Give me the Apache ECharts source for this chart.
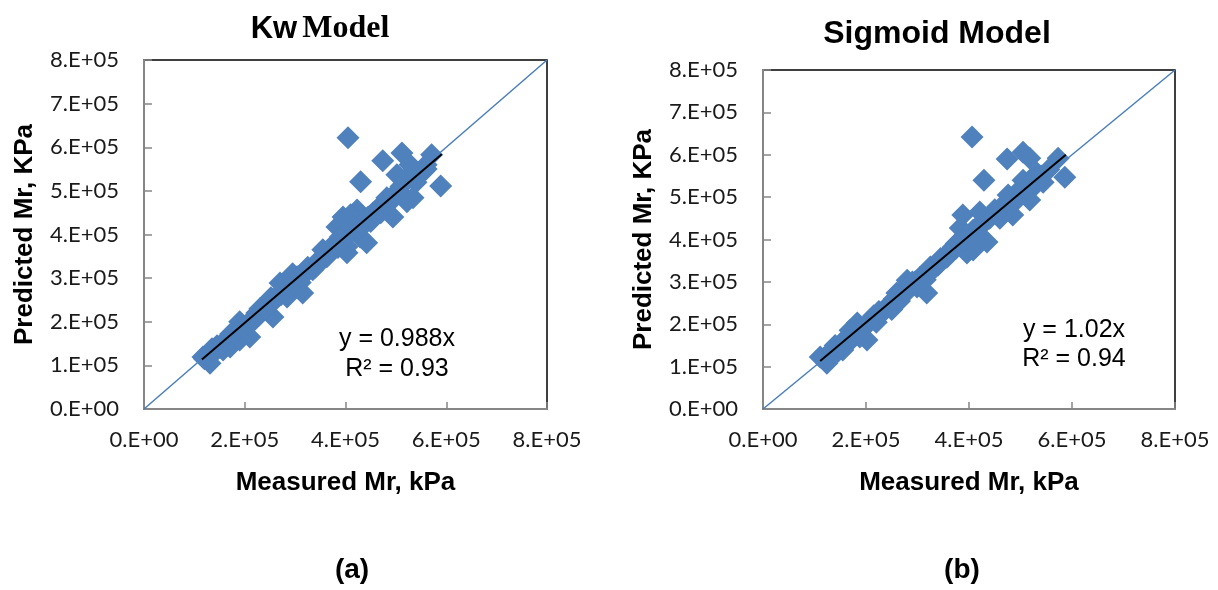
<!DOCTYPE html>
<html>
<head>
<meta charset="utf-8">
<script src="https://cdn.jsdelivr.net/npm/echarts@6/dist/echarts.min.js"></script>
<style>
html,body{margin:0;padding:0;background:#fff;}
#chart{width:1218px;height:590px;}
</style>
</head>
<body>
<div id="chart"></div>
<script>
// ---- data (values in kPa) ----
const kwMeasured = [117000,131000,125000,140000,157000,171000,162000,178000,190000,190000,185000,210000,200000,224000,235000,244000,256000,260000,270000,284000,280000,304000,315000,310000,335000,345000,363000,370000,403000,383000,395000,403000,405000,423000,429000,430000,442000,462000,478000,474000,482000,494000,502000,512000,522000,528000,534000,554000,571000,589000,390000,415000,450000,510000,295000,145000,220000,355000,410000,540000,560000,470000,
  120000,128000,135000,150000,155000,168000,172000,180000,195000,205000,215000,228000,230000,240000,250000,252000,265000,272000,278000,290000,295000,300000,310000,320000,325000,340000,350000,360000,370000,380000,385000,395000,400000,410000,420000,435000,445000,455000,465000,475000,485000,495000,505000,520000,530000,545000,560000];
const kwPredicted = [119000,105000,125000,130000,135000,142000,155000,162000,158000,200000,180000,165000,185000,220000,225000,243000,211000,250000,289000,257000,275000,303000,266000,290000,319000,335000,349000,360000,358000,417000,440000,372000,622000,456000,394000,521000,381000,456000,475000,569000,484000,440000,537000,587000,475000,560000,484000,544000,583000,511000,395000,410000,430000,510000,310000,145000,205000,365000,445000,520000,560000,450000,
  115000,122000,138000,142000,150000,160000,172000,175000,188000,195000,205000,215000,230000,230000,240000,255000,260000,262000,285000,280000,290000,288000,305000,310000,325000,325000,345000,355000,370000,380000,370000,390000,405000,420000,430000,420000,440000,450000,460000,465000,470000,490000,500000,525000,540000,535000,550000];

const sgMeasured = [111000,124000,130000,145000,155000,169000,165000,183000,188000,202000,195000,221000,230000,241000,250000,260000,265000,280000,299000,305000,318000,330000,340000,357000,369000,383000,388000,396000,406000,408000,408000,421000,429000,435000,460000,474000,476000,485000,505000,505000,518000,518000,532000,544000,573000,586000,375000,420000,450000,500000,530000,290000,220000,140000,350000,490000,
  118000,128000,135000,148000,155000,162000,175000,180000,192000,208000,215000,225000,235000,245000,255000,262000,270000,278000,285000,295000,310000,315000,325000,335000,345000,355000,365000,375000,380000,390000,400000,410000,420000,430000,440000,455000,465000,480000,495000,510000,525000,540000,555000];
const sgPredicted = [123000,108000,130000,135000,139000,186000,155000,203000,170000,163000,190000,217000,225000,241000,235000,274000,255000,304000,288000,311000,274000,330000,340000,358000,382000,427000,458000,368000,642000,422000,375000,465000,540000,394000,450000,590000,505000,458000,606000,540000,592000,493000,557000,535000,592000,547000,390000,430000,470000,520000,530000,300000,205000,150000,355000,490000,
  120000,125000,140000,145000,160000,165000,175000,182000,190000,210000,220000,230000,235000,245000,260000,262000,280000,275000,295000,300000,315000,305000,335000,335000,355000,360000,370000,380000,395000,400000,410000,415000,435000,440000,450000,460000,480000,485000,505000,520000,540000,550000,565000];

const kwSlope = 0.988, sgSlope = 1.02;
const kwTrendX = [115000, 591000];
const sgTrendX = [111000, 588000];
const diagonal = [[0,0],[800000,800000]];

const yTickLabels = ['0.E+00','1.E+05','2.E+05','3.E+05','4.E+05','5.E+05','6.E+05','7.E+05','8.E+05'];
const xTickLabels = ['0.E+00','2.E+05','4.E+05','6.E+05','8.E+05'];

const titles = ['Kw Model','Sigmoid Model'];
const kwEq = ['y = 0.988x','R² = 0.93'];
const sgEq = ['y = 1.02x','R² = 0.94'];
const panelLabels = ['(a)','(b)'];
const xName = 'Measured Mr, kPa';
const yName = 'Predicted Mr, KPa';

// ---- chart ----
const chart = echarts.init(document.getElementById('chart'), null, {renderer:'canvas'});
const zip = (a,b) => a.map((v,i)=>[v,b[i]]);
const blue = '#4F81BD';
const axisGray = '#868686';
const tickFont = 'Lato, "Open Sans", sans-serif';
const boldFont = '"Liberation Sans", Arial, sans-serif';

function xAxisCfg(gi){
  return {
    type:'value', gridIndex:gi, min:0, max:800000, interval:200000,
    name:xName, nameLocation:'middle', nameGap:61,
    nameTextStyle:{fontFamily:boldFont, fontWeight:'bold', fontSize:26, color:'#000'},
    axisLine:{show:true, onZero:false, lineStyle:{color:axisGray, width:2}},
    axisTick:{show:true, inside:true, length:7, lineStyle:{color:axisGray, width:1.5}},
    axisLabel:{margin:20, fontFamily:tickFont, fontSize:22, color:'#1a1a1a',
      formatter:v=>xTickLabels[Math.round(v/200000)]},
    splitLine:{show:false}
  };
}
function yAxisCfg(gi){
  return {
    type:'value', gridIndex:gi, min:0, max:800000, interval:100000,
    name:yName, nameLocation:'middle', nameGap:106,
    nameTextStyle:{fontFamily:boldFont, fontWeight:'bold', fontSize:26, color:'#000'},
    axisLine:{show:true, onZero:false, lineStyle:{color:axisGray, width:2}},
    axisTick:{show:true, inside:true, length:8, lineStyle:{color:axisGray, width:1.5}},
    axisLabel:{margin:25, fontFamily:tickFont, fontSize:22, color:'#1a1a1a',
      formatter:v=>yTickLabels[Math.round(v/100000)]},
    splitLine:{show:false}
  };
}
function seriesFor(gi, meas, pred, slope, trendX){
  return [
    {type:'line', xAxisIndex:gi, yAxisIndex:gi, data:diagonal, symbol:'none',
     lineStyle:{color:'#4A7EBB', width:1.5}, silent:true, z:2},
    {type:'scatter', xAxisIndex:gi, yAxisIndex:gi, data:zip(meas,pred), symbol:'diamond',
     symbolSize:23, itemStyle:{color:blue, opacity:1}, z:3},
    {type:'line', xAxisIndex:gi, yAxisIndex:gi, data:trendX.map(x=>[x, x*slope]), symbol:'none',
     lineStyle:{color:'#000', width:2}, silent:true, z:4}
  ];
}
function eqTitle(text, x, y){
  return {text:text, left:x, top:y, textAlign:'center',
    textStyle:{fontFamily:boldFont, fontWeight:'normal', fontSize:25, color:'#000'}};
}

const option = {
  backgroundColor:'#fff',
  animation:false,
  title:[
    {text:'{a|Kw} {b|Model}', left:315, top:8, textAlign:'center',
     textStyle:{rich:{
       a:{fontFamily:boldFont, fontWeight:'bold', fontSize:31, color:'#000'},
       b:{fontFamily:'"Liberation Serif", "Times New Roman", serif', fontWeight:'bold', fontSize:32, color:'#000'}
     }}},
    {text:titles[1], left:932, top:13, textAlign:'center',
     textStyle:{fontFamily:boldFont, fontWeight:'bold', fontSize:32, color:'#000'}},
    eqTitle(kwEq[0], 392, 322),
    eqTitle(kwEq[1], 392, 352),
    eqTitle(sgEq[0], 1069, 313),
    eqTitle(sgEq[1], 1069, 342),
    {text:panelLabels[0], left:347, top:551, textAlign:'center',
     textStyle:{fontFamily:boldFont, fontWeight:'bold', fontSize:28, color:'#000'}},
    {text:panelLabels[1], left:957, top:551, textAlign:'center',
     textStyle:{fontFamily:boldFont, fontWeight:'bold', fontSize:28, color:'#000'}}
  ],
  grid:[
    {left:144, top:60, width:403, height:349, show:true, borderColor:'#000', borderWidth:1.5, backgroundColor:'transparent'},
    {left:763, top:70, width:412, height:339, show:true, borderColor:'#000', borderWidth:1.5, backgroundColor:'transparent'}
  ],
  xAxis:[xAxisCfg(0), xAxisCfg(1)],
  yAxis:[yAxisCfg(0), yAxisCfg(1)],
  series:[
    ...seriesFor(0, kwMeasured, kwPredicted, kwSlope, kwTrendX),
    ...seriesFor(1, sgMeasured, sgPredicted, sgSlope, sgTrendX)
  ]
};
chart.setOption(option);
</script>
</body>
</html>
